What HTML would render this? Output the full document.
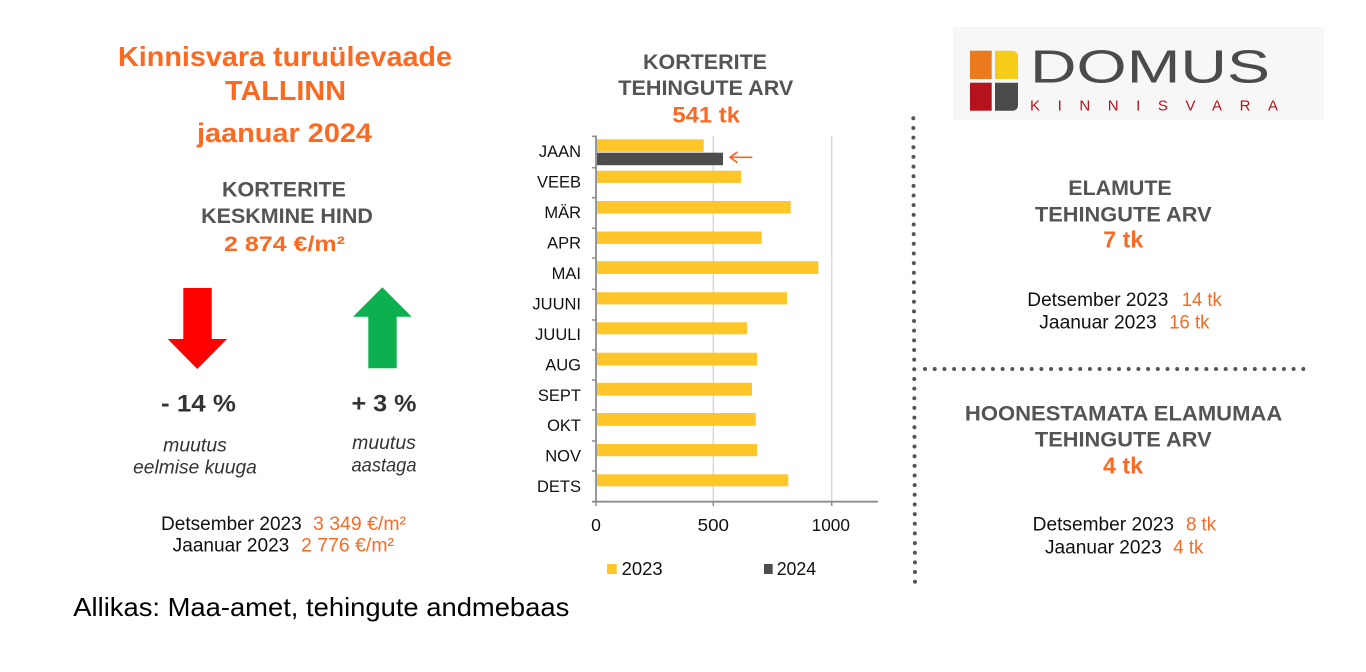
<!DOCTYPE html>
<html>
<head>
<meta charset="utf-8">
<style>
  html, body { margin:0; padding:0; background:#fff; }
  body { width:1366px; height:672px; overflow:hidden; }
  svg { display:block; }
  text { font-family: "Liberation Sans", Arial, sans-serif; }
</style>
</head>
<body>
<svg width="1366" height="672" viewBox="0 0 1366 672" xmlns="http://www.w3.org/2000/svg">
  <rect x="0" y="0" width="1366" height="672" fill="#ffffff"/>

  <!-- LEFT COLUMN -->
  <g font-weight="bold" fill="#fb6a22" text-anchor="middle">
    <text x="285" y="66" font-size="28" textLength="334" lengthAdjust="spacingAndGlyphs">Kinnisvara turuülevaade</text>
    <text x="285.5" y="100" font-size="28" textLength="121" lengthAdjust="spacingAndGlyphs">TALLINN</text>
    <text x="284.5" y="142" font-size="27" textLength="175" lengthAdjust="spacingAndGlyphs">jaanuar 2024</text>
  </g>
  <g font-weight="bold" fill="#545454" text-anchor="middle" font-size="21">
    <text x="284" y="196.7" textLength="124" lengthAdjust="spacingAndGlyphs">KORTERITE</text>
    <text x="287" y="223" textLength="171.7" lengthAdjust="spacingAndGlyphs">KESKMINE HIND</text>
  </g>
  <text x="284.5" y="251" font-size="21" font-weight="bold" fill="#fb6a22" text-anchor="middle" textLength="121" lengthAdjust="spacingAndGlyphs">2 874 €/m²</text>

  <!-- red down arrow -->
  <polygon points="183.3,288 211.7,288 211.7,339 227,339 197.3,369 167.7,339 183.3,339" fill="#ff0000"/>
  <!-- green up arrow -->
  <polygon points="382.3,287.3 411.7,316.7 396.7,316.7 396.7,368.3 368.3,368.3 368.3,316.7 353,316.7" fill="#0cb04e"/>

  <g font-weight="bold" fill="#333" text-anchor="middle" font-size="24">
    <text x="198.5" y="411.7" textLength="75" lengthAdjust="spacingAndGlyphs">- 14 %</text>
    <text x="384" y="411.7" textLength="65" lengthAdjust="spacingAndGlyphs">+ 3 %</text>
  </g>
  <g font-style="italic" fill="#333" text-anchor="middle" font-size="19.5">
    <text x="195" y="451.7" textLength="63.7" lengthAdjust="spacingAndGlyphs">muutus</text>
    <text x="195" y="473.3" textLength="123.7" lengthAdjust="spacingAndGlyphs">eelmise kuuga</text>
    <text x="384" y="449" textLength="63.7" lengthAdjust="spacingAndGlyphs">muutus</text>
    <text x="384" y="471.7" textLength="65" lengthAdjust="spacingAndGlyphs">aastaga</text>
  </g>
  <g font-size="19">
    <text x="161" y="530" fill="#111" textLength="140.7" lengthAdjust="spacingAndGlyphs">Detsember 2023</text>
    <text x="313" y="530" fill="#fb6a22" textLength="93" lengthAdjust="spacingAndGlyphs">3 349 €/m²</text>
    <text x="172.7" y="551.7" fill="#111" textLength="116.6" lengthAdjust="spacingAndGlyphs">Jaanuar 2023</text>
    <text x="301" y="551.7" fill="#fb6a22" textLength="93" lengthAdjust="spacingAndGlyphs">2 776 €/m²</text>
  </g>

  <text x="73.3" y="616" font-size="26" fill="#000" textLength="496" lengthAdjust="spacingAndGlyphs">Allikas: Maa-amet, tehingute andmebaas</text>

  <!-- MIDDLE HEADER -->
  <g font-weight="bold" fill="#545454" text-anchor="middle" font-size="21">
    <text x="705" y="69" textLength="124" lengthAdjust="spacingAndGlyphs">KORTERITE</text>
    <text x="705.8" y="95" textLength="175" lengthAdjust="spacingAndGlyphs">TEHINGUTE ARV</text>
  </g>
  <text x="706.2" y="122.7" font-size="22" font-weight="bold" fill="#fb6a22" text-anchor="middle" textLength="67.7" lengthAdjust="spacingAndGlyphs">541 tk</text>

  <!-- CHART -->
  <!-- gridlines -->
  <line x1="713.3" y1="136" x2="713.3" y2="501.7" stroke="#d9d9d9" stroke-width="1.5"/>
  <line x1="831.7" y1="136" x2="831.7" y2="501.7" stroke="#d9d9d9" stroke-width="1.5"/>

  <!-- bars -->
  <g fill="#ffc629">
    <rect x="597" y="139.3" width="106.7" height="12.6"/>
    <rect x="597" y="170.7" width="144" height="12.2"/>
    <rect x="597" y="201" width="193.7" height="12.6"/>
    <rect x="597" y="231.5" width="164.7" height="12.4"/>
    <rect x="597" y="261.2" width="221.3" height="12.8"/>
    <rect x="597" y="292.2" width="190" height="12.2"/>
    <rect x="597" y="322.3" width="150" height="12"/>
    <rect x="597" y="352.7" width="160" height="12.8"/>
    <rect x="597" y="382.8" width="155" height="12.8"/>
    <rect x="597" y="413" width="158.7" height="12.8"/>
    <rect x="597" y="444" width="160" height="12.2"/>
    <rect x="597" y="474.3" width="191.3" height="12"/>
  </g>
  <rect x="597" y="152.7" width="126" height="12.5" fill="#4d4d4d"/>

  <!-- axes -->
  <line x1="596" y1="135.5" x2="596" y2="502" stroke="#8c8c8c" stroke-width="1.8"/>
  <line x1="592" y1="501.7" x2="878" y2="501.7" stroke="#8c8c8c" stroke-width="1.8"/>
  <g stroke="#8c8c8c" stroke-width="1.5">
    <line x1="592" y1="136.3" x2="596" y2="136.3"/>
    <line x1="592" y1="167.7" x2="596" y2="167.7"/>
    <line x1="592" y1="197.7" x2="596" y2="197.7"/>
    <line x1="592" y1="228.3" x2="596" y2="228.3"/>
    <line x1="592" y1="258" x2="596" y2="258"/>
    <line x1="592" y1="289.3" x2="596" y2="289.3"/>
    <line x1="592" y1="320" x2="596" y2="320"/>
    <line x1="592" y1="350" x2="596" y2="350"/>
    <line x1="592" y1="380" x2="596" y2="380"/>
    <line x1="592" y1="410" x2="596" y2="410"/>
    <line x1="592" y1="441" x2="596" y2="441"/>
    <line x1="592" y1="471" x2="596" y2="471"/>
    <line x1="596" y1="501.7" x2="596" y2="506"/>
    <line x1="713.3" y1="501.7" x2="713.3" y2="506"/>
    <line x1="831.7" y1="501.7" x2="831.7" y2="506"/>
  </g>

  <!-- category labels -->
  <g font-size="16.5" fill="#111" text-anchor="end">
    <text x="581" y="157.2">JAAN</text>
    <text x="581" y="187.6">VEEB</text>
    <text x="581" y="218">MÄR</text>
    <text x="581" y="248.5">APR</text>
    <text x="581" y="279">MAI</text>
    <text x="581" y="309.4">JUUNI</text>
    <text x="581" y="339.9">JUULI</text>
    <text x="581" y="370.3">AUG</text>
    <text x="581" y="400.8">SEPT</text>
    <text x="581" y="431.2">OKT</text>
    <text x="581" y="461.7">NOV</text>
    <text x="581" y="492.1">DETS</text>
  </g>

  <!-- x tick labels -->
  <g font-size="17.5" fill="#111" text-anchor="middle">
    <text x="596" y="531">0</text>
    <text x="713.3" y="531" textLength="31.3" lengthAdjust="spacingAndGlyphs">500</text>
    <text x="830.8" y="531" textLength="38.3" lengthAdjust="spacingAndGlyphs">1000</text>
  </g>

  <!-- orange pointer arrow -->
  <g stroke="#f26522" stroke-width="1.6" fill="none" stroke-linecap="round" stroke-linejoin="round">
    <line x1="730" y1="157.3" x2="751.7" y2="157.3"/>
    <polyline points="737,152.3 730,157.3 737,162.3"/>
  </g>

  <!-- legend -->
  <rect x="607" y="564" width="9.7" height="10" fill="#ffc629"/>
  <text x="621.7" y="575" font-size="18" fill="#111" textLength="41" lengthAdjust="spacingAndGlyphs">2023</text>
  <rect x="764" y="564" width="8.7" height="10" fill="#4d4d4d"/>
  <text x="776.7" y="575" font-size="18" fill="#111" textLength="39.5" lengthAdjust="spacingAndGlyphs">2024</text>

  <!-- DOTTED DIVIDERS -->
  <line x1="913.3" y1="118.3" x2="915" y2="581.7" stroke="#555" stroke-width="4" stroke-linecap="round" stroke-dasharray="0 9.654"/>
  <line x1="925" y1="369" x2="1313" y2="369" stroke="#555" stroke-width="4" stroke-linecap="round" stroke-dasharray="0 9.7"/>

  <!-- LOGO -->
  <rect x="953" y="27" width="371" height="93" fill="#f7f7f7"/>
  <rect x="970" y="50.7" width="21.7" height="28.3" fill="#ea7a1c"/>
  <path d="M995,50.7 H1012 Q1018,50.7 1018,56.7 V79 H995 Z" fill="#f5cc1a"/>
  <rect x="970" y="82.7" width="21.7" height="28" fill="#b5121b"/>
  <path d="M995,82.7 H1018 V104.7 Q1018,110.7 1012,110.7 H995 Z" fill="#4a4a4a"/>
  <text x="1030" y="82.7" font-size="46" fill="#4b4b4b" textLength="240" lengthAdjust="spacingAndGlyphs">DOMUS</text>
  <text x="1030" y="110.7" font-size="15" fill="#b5121b" textLength="248" lengthAdjust="spacing">KINNISVARA</text>

  <!-- RIGHT COLUMN -->
  <g font-weight="bold" fill="#545454" text-anchor="middle" font-size="21">
    <text x="1120" y="195" textLength="103.4" lengthAdjust="spacingAndGlyphs">ELAMUTE</text>
    <text x="1123.3" y="221.7" textLength="176.7" lengthAdjust="spacingAndGlyphs">TEHINGUTE ARV</text>
    <text x="1123.6" y="420.7" textLength="317.3" lengthAdjust="spacingAndGlyphs">HOONESTAMATA ELAMUMAA</text>
    <text x="1123.3" y="446.7" textLength="176.7" lengthAdjust="spacingAndGlyphs">TEHINGUTE ARV</text>
  </g>
  <g font-weight="bold" fill="#fb6a22" text-anchor="middle" font-size="23">
    <text x="1123.3" y="247.3" textLength="40" lengthAdjust="spacingAndGlyphs">7 tk</text>
    <text x="1123" y="473.3" textLength="40" lengthAdjust="spacingAndGlyphs">4 tk</text>
  </g>
  <g font-size="19">
    <text x="1027.3" y="306" fill="#111" textLength="141" lengthAdjust="spacingAndGlyphs">Detsember 2023</text>
    <text x="1181.7" y="306" fill="#fb6a22" textLength="40" lengthAdjust="spacingAndGlyphs">14 tk</text>
    <text x="1039.3" y="328.3" fill="#111" textLength="117.4" lengthAdjust="spacingAndGlyphs">Jaanuar 2023</text>
    <text x="1169.3" y="328.3" fill="#fb6a22" textLength="40" lengthAdjust="spacingAndGlyphs">16 tk</text>

    <text x="1032.7" y="530.7" fill="#111" textLength="141.3" lengthAdjust="spacingAndGlyphs">Detsember 2023</text>
    <text x="1186" y="530.7" fill="#fb6a22" textLength="30" lengthAdjust="spacingAndGlyphs">8 tk</text>
    <text x="1045" y="553.3" fill="#111" textLength="116.7" lengthAdjust="spacingAndGlyphs">Jaanuar 2023</text>
    <text x="1173.3" y="553.3" fill="#fb6a22" textLength="30" lengthAdjust="spacingAndGlyphs">4 tk</text>
  </g>
</svg>
</body>
</html>
